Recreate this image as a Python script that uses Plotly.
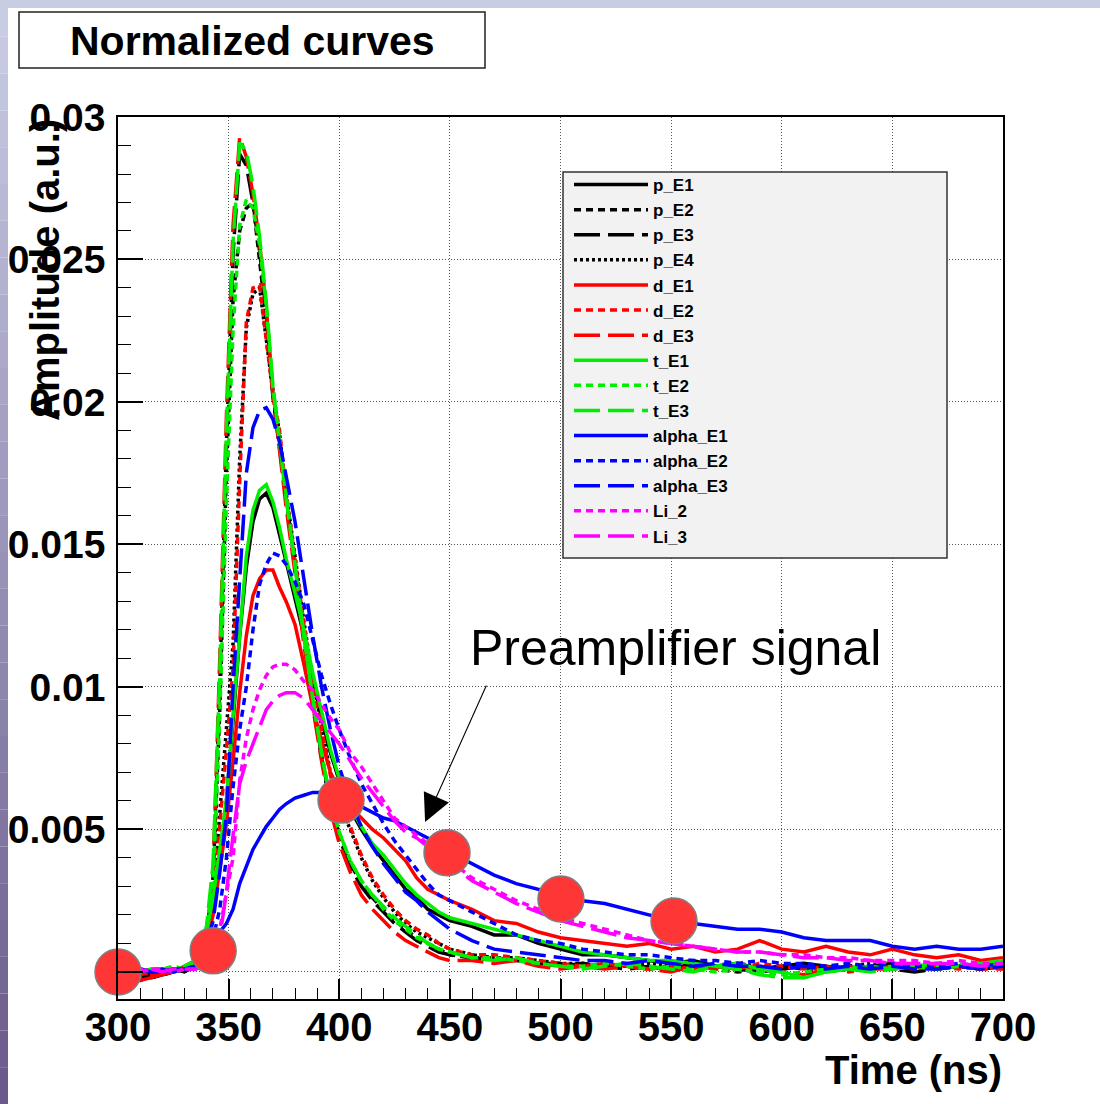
import plotly.graph_objects as go

# ---------------- data ----------------
time_ns = [300, 305, 310, 315, 320, 325, 330, 335, 340,
           343, 346, 349, 352, 355, 358, 361, 364, 367, 370, 373, 376,
           380, 384, 388, 392, 396, 400,
           405, 410, 415, 420, 425, 430, 435, 440, 445, 450,
           460, 470, 480, 490, 500, 510, 520, 530, 540, 550, 560, 570,
           580, 590, 600, 610, 620, 630, 640, 650, 660, 670, 680, 690, 700]

p_E1 = [0.0001, -0.0001, -0.0002, -0.0001, 0.0000, 0.0001, 0.0000, 0.0002, 0.0010,
        0.0022, 0.0040, 0.0060, 0.0088, 0.0118, 0.0142, 0.0158, 0.0166, 0.0168, 0.0163, 0.0154, 0.0144,
        0.0131, 0.0118, 0.0103, 0.0089, 0.0077, 0.0067,
        0.0057, 0.0050, 0.0044, 0.0039, 0.0034, 0.0029, 0.0026, 0.0022, 0.0020, 0.0018,
        0.0016, 0.0013, 0.0013, 0.0010, 0.0008, 0.0006, 0.0006, 0.0005, 0.0004, 0.0003, 0.0004, 0.0002,
        0.0003, 0.0001, 0.0002, 0.0003, 0.0002, 0.0001, 0.0002, 0.0003, 0.0002, 0.0001, 0.0002, 0.0002, 0.0003]
p_E2 = [0.0002, 0.0000, -0.0001, -0.0002, -0.0001, 0.0000, 0.0001, 0.0003, 0.0013,
        0.0032, 0.0092, 0.0175, 0.0236, 0.0260, 0.0268, 0.0270, 0.0250, 0.0229, 0.0203, 0.0185, 0.0165,
        0.0142, 0.0117, 0.0095, 0.0076, 0.0059, 0.0048,
        0.0038, 0.0031, 0.0026, 0.0022, 0.0018, 0.0015, 0.0012, 0.0010, 0.0008, 0.0006,
        0.0005, 0.0005, 0.0004, 0.0003, 0.0003, 0.0002, 0.0003, 0.0002, 0.0001, 0.0002, 0.0002, 0.0001,
        0.0000, 0.0001, 0.0002, 0.0001, 0.0000, 0.0001, 0.0002, 0.0001, 0.0002, 0.0001, 0.0002, 0.0001, 0.0002]
p_E3 = [0.0000, -0.0001, -0.0003, -0.0002, -0.0001, 0.0000, 0.0001, 0.0002, 0.0011,
        0.0033, 0.0100, 0.0185, 0.0252, 0.0287, 0.0283, 0.0270, 0.0253, 0.0231, 0.0202, 0.0184, 0.0164,
        0.0141, 0.0116, 0.0094, 0.0075, 0.0058, 0.0047,
        0.0037, 0.0030, 0.0025, 0.0021, 0.0017, 0.0014, 0.0011, 0.0009, 0.0007, 0.0006,
        0.0005, 0.0004, 0.0004, 0.0003, 0.0002, 0.0003, 0.0002, 0.0001, 0.0002, 0.0001, 0.0003, 0.0002,
        0.0001, 0.0000, 0.0001, 0.0002, 0.0001, 0.0001, 0.0002, 0.0001, 0.0000, 0.0001, 0.0002, 0.0001, 0.0002]
p_E4 = [0.0001, 0.0000, -0.0001, -0.0001, 0.0000, 0.0000, 0.0001, 0.0003, 0.0011,
        0.0026, 0.0055, 0.0085, 0.0115, 0.0180, 0.0226, 0.0238, 0.0240, 0.0222, 0.0204, 0.0189, 0.0168,
        0.0146, 0.0123, 0.0103, 0.0086, 0.0070, 0.0059,
        0.0050, 0.0040, 0.0032, 0.0026, 0.0021, 0.0017, 0.0014, 0.0012, 0.0010, 0.0008,
        0.0006, 0.0005, 0.0005, 0.0004, 0.0003, 0.0003, 0.0002, 0.0002, 0.0003, 0.0002, 0.0001, 0.0002,
        0.0003, 0.0002, 0.0001, 0.0002, 0.0001, 0.0002, 0.0003, 0.0001, 0.0002, 0.0001, 0.0002, 0.0001, 0.0002]
d_E1 = [0.0000, -0.0002, -0.0003, -0.0002, -0.0001, 0.0000, 0.0002, 0.0004, 0.0010,
        0.0020, 0.0036, 0.0052, 0.0074, 0.0098, 0.0118, 0.0132, 0.0138, 0.0141, 0.0141, 0.0135, 0.0130,
        0.0122, 0.0108, 0.0093, 0.0081, 0.0070, 0.0064,
        0.0058, 0.0054, 0.0050, 0.0047, 0.0043, 0.0039, 0.0033, 0.0029, 0.0027, 0.0025,
        0.0022, 0.0018, 0.0017, 0.0014, 0.0012, 0.0011, 0.0010, 0.0009, 0.0010, 0.0008, 0.0009, 0.0007,
        0.0008, 0.0011, 0.0008, 0.0007, 0.0009, 0.0007, 0.0006, 0.0008, 0.0006, 0.0005, 0.0006, 0.0004, 0.0005]
d_E2 = [0.0001, 0.0000, -0.0001, 0.0000, 0.0001, 0.0000, 0.0002, 0.0003, 0.0012,
        0.0025, 0.0050, 0.0078, 0.0107, 0.0172, 0.0228, 0.0240, 0.0241, 0.0221, 0.0203, 0.0190, 0.0168,
        0.0145, 0.0122, 0.0102, 0.0085, 0.0069, 0.0058,
        0.0051, 0.0041, 0.0033, 0.0027, 0.0022, 0.0018, 0.0015, 0.0013, 0.0010, 0.0008,
        0.0006, 0.0006, 0.0005, 0.0004, 0.0003, 0.0002, 0.0003, 0.0002, 0.0001, 0.0002, 0.0001, 0.0002,
        0.0001, 0.0003, 0.0002, 0.0001, 0.0002, 0.0000, 0.0001, 0.0002, 0.0001, 0.0002, 0.0001, 0.0002, 0.0001]
d_E3 = [0.0001, 0.0000, -0.0002, -0.0001, 0.0000, 0.0001, 0.0001, 0.0003, 0.0012,
        0.0035, 0.0110, 0.0195, 0.0262, 0.0293, 0.0286, 0.0273, 0.0256, 0.0233, 0.0203, 0.0183, 0.0163,
        0.0140, 0.0115, 0.0093, 0.0074, 0.0057, 0.0045,
        0.0035, 0.0027, 0.0022, 0.0018, 0.0014, 0.0011, 0.0009, 0.0007, 0.0005, 0.0004,
        0.0004, 0.0003, 0.0004, 0.0002, 0.0001, 0.0002, 0.0001, 0.0002, 0.0001, 0.0000, 0.0002, 0.0001,
        0.0002, 0.0001, 0.0000, -0.0001, 0.0001, 0.0002, 0.0001, 0.0001, 0.0002, 0.0001, 0.0002, 0.0001, 0.0001]
t_E1 = [0.0002, 0.0001, 0.0000, 0.0001, 0.0001, 0.0000, 0.0001, 0.0004, 0.0014,
        0.0026, 0.0042, 0.0060, 0.0090, 0.0120, 0.0146, 0.0162, 0.0169, 0.0171, 0.0165, 0.0156, 0.0145,
        0.0133, 0.0120, 0.0105, 0.0091, 0.0078, 0.0068,
        0.0058, 0.0051, 0.0045, 0.0041, 0.0036, 0.0031, 0.0027, 0.0024, 0.0021, 0.0019,
        0.0017, 0.0015, 0.0013, 0.0011, 0.0009, 0.0007, 0.0006, 0.0005, 0.0004, 0.0004, 0.0003, 0.0002,
        0.0003, 0.0001, 0.0000, -0.0002, 0.0000, 0.0001, 0.0002, 0.0001, 0.0002, 0.0003, 0.0002, 0.0003, 0.0004]
t_E2 = [0.0002, 0.0001, 0.0001, 0.0000, 0.0001, 0.0002, 0.0001, 0.0004, 0.0015,
        0.0032, 0.0090, 0.0165, 0.0225, 0.0262, 0.0271, 0.0268, 0.0255, 0.0234, 0.0205, 0.0186, 0.0166,
        0.0143, 0.0118, 0.0096, 0.0077, 0.0060, 0.0049,
        0.0039, 0.0032, 0.0027, 0.0022, 0.0018, 0.0015, 0.0012, 0.0010, 0.0008, 0.0007,
        0.0005, 0.0005, 0.0004, 0.0003, 0.0002, 0.0002, 0.0003, 0.0002, 0.0001, 0.0002, 0.0001, 0.0000,
        0.0001, 0.0000, -0.0001, 0.0000, 0.0001, 0.0002, 0.0001, 0.0002, 0.0003, 0.0002, 0.0003, 0.0002, 0.0003]
t_E3 = [0.0002, 0.0001, 0.0000, 0.0001, 0.0001, 0.0000, 0.0002, 0.0004, 0.0016,
        0.0038, 0.0105, 0.0190, 0.0256, 0.0291, 0.0288, 0.0276, 0.0258, 0.0235, 0.0206, 0.0186, 0.0166,
        0.0143, 0.0118, 0.0096, 0.0077, 0.0060, 0.0049,
        0.0039, 0.0032, 0.0027, 0.0023, 0.0019, 0.0016, 0.0013, 0.0010, 0.0008, 0.0007,
        0.0005, 0.0004, 0.0005, 0.0003, 0.0002, 0.0001, 0.0002, 0.0003, 0.0002, 0.0001, 0.0000, 0.0002,
        0.0001, -0.0001, -0.0002, -0.0002, 0.0000, 0.0001, 0.0000, 0.0001, 0.0002, 0.0001, 0.0002, 0.0003, 0.0002]
alpha_E1 = [0.0001, 0.0000, 0.0001, 0.0000, 0.0001, 0.0000, 0.0001, 0.0001, 0.0004,
            0.0009, 0.0014, 0.0017, 0.0022, 0.0031, 0.0037, 0.0043, 0.0047, 0.0051, 0.0054, 0.0057, 0.0059,
            0.0061, 0.0062, 0.0063, 0.0063, 0.0063, 0.0062,
            0.0060, 0.0058, 0.0056, 0.0054, 0.0053, 0.0051, 0.0049, 0.0047, 0.0045, 0.0042,
            0.0038, 0.0034, 0.0031, 0.0029, 0.0027, 0.0025, 0.0024, 0.0022, 0.0020, 0.0018, 0.0017, 0.0016,
            0.0015, 0.0015, 0.0014, 0.0012, 0.0011, 0.0011, 0.0011, 0.0009, 0.0008, 0.0009, 0.0008, 0.0008, 0.0009]
alpha_E2 = [0.0001, 0.0000, 0.0000, 0.0001, 0.0000, 0.0001, 0.0001, 0.0002, 0.0007,
            0.0012, 0.0022, 0.0040, 0.0065, 0.0085, 0.0100, 0.0120, 0.0136, 0.0143, 0.0147, 0.0146, 0.0143,
            0.0137, 0.0129, 0.0117, 0.0104, 0.0094, 0.0085,
            0.0075, 0.0066, 0.0059, 0.0052, 0.0046, 0.0041, 0.0036, 0.0031, 0.0027, 0.0025,
            0.0021, 0.0017, 0.0013, 0.0011, 0.0010, 0.0008, 0.0007, 0.0006, 0.0006, 0.0005, 0.0004, 0.0004,
            0.0003, 0.0004, 0.0003, 0.0003, 0.0002, 0.0003, 0.0002, 0.0003, 0.0002, 0.0002, 0.0003, 0.0002, 0.0003]
alpha_E3 = [0.0001, 0.0000, 0.0001, 0.0000, 0.0000, 0.0001, 0.0001, 0.0002, 0.0009,
            0.0018, 0.0035, 0.0055, 0.0100, 0.0140, 0.0175, 0.0191, 0.0197, 0.0198, 0.0194, 0.0186, 0.0174,
            0.0158, 0.0138, 0.0118, 0.0100, 0.0085, 0.0072,
            0.0060, 0.0051, 0.0044, 0.0038, 0.0033, 0.0028, 0.0025, 0.0021, 0.0018, 0.0015,
            0.0011, 0.0008, 0.0007, 0.0006, 0.0005, 0.0004, 0.0004, 0.0003, 0.0004, 0.0003, 0.0002, 0.0003,
            0.0002, 0.0002, 0.0001, 0.0002, 0.0001, 0.0002, 0.0001, 0.0002, 0.0001, 0.0001, 0.0002, 0.0001, 0.0002]
Li_2 = [0.0001, 0.0001, 0.0000, 0.0001, 0.0001, 0.0000, 0.0001, 0.0001, 0.0003,
        0.0006, 0.0015, 0.0028, 0.0040, 0.0067, 0.0082, 0.0092, 0.0099, 0.0104, 0.0107, 0.0108, 0.0108,
        0.0106, 0.0102, 0.0099, 0.0094, 0.0089, 0.0085,
        0.0077, 0.0072, 0.0066, 0.0060, 0.0054, 0.0051, 0.0048, 0.0045, 0.0042, 0.0039,
        0.0033, 0.0029, 0.0025, 0.0022, 0.0019, 0.0017, 0.0015, 0.0013, 0.0011, 0.0010, 0.0009, 0.0008,
        0.0007, 0.0007, 0.0006, 0.0006, 0.0005, 0.0005, 0.0004, 0.0004, 0.0004, 0.0003, 0.0004, 0.0003, 0.0003]
Li_3 = [0.0001, 0.0000, 0.0001, 0.0001, 0.0000, 0.0001, 0.0001, 0.0001, 0.0002,
        0.0005, 0.0012, 0.0028, 0.0048, 0.0066, 0.0074, 0.0080, 0.0086, 0.0092, 0.0095, 0.0097, 0.0098,
        0.0098, 0.0096, 0.0092, 0.0088, 0.0084, 0.0080,
        0.0074, 0.0068, 0.0063, 0.0058, 0.0053, 0.0049, 0.0047, 0.0044, 0.0041, 0.0038,
        0.0032, 0.0028, 0.0024, 0.0021, 0.0018, 0.0016, 0.0014, 0.0012, 0.0011, 0.0010, 0.0009, 0.0008,
        0.0007, 0.0007, 0.0006, 0.0005, 0.0005, 0.0004, 0.0004, 0.0003, 0.0003, 0.0003, 0.0003, 0.0002, 0.0003]

series_names = ["p_E1", "p_E2", "p_E3", "p_E4", "d_E1", "d_E2", "d_E3",
                "t_E1", "t_E2", "t_E3", "alpha_E1", "alpha_E2", "alpha_E3", "Li_2", "Li_3"]
series_values = [p_E1, p_E2, p_E3, p_E4, d_E1, d_E2, d_E3,
                 t_E1, t_E2, t_E3, alpha_E1, alpha_E2, alpha_E3, Li_2, Li_3]

# highlighted points (red discs)
dot_time = [300, 343, 400.8, 448.7, 500.2, 551.3]
dot_amp = [0.0000, 0.00074, 0.00603, 0.00418, 0.00256, 0.00179]

x_ticks = [300, 350, 400, 450, 500, 550, 600, 650, 700]
y_ticks = [0, 0.005, 0.01, 0.015, 0.02, 0.025, 0.03]
y_ticktext = ["", "0.005", "0.01", "0.015", "0.02", "0.025", "0.03"]

# ---------------- styling ----------------
colors = {"p": "#000000", "d": "#ff0000", "t": "#00ee00", "alpha": "#0000ff", "Li": "#ff00ff"}
dashes = {"solid": "solid", "dash": "7px,5px", "long": "26px,8px", "dot": "3px,3px"}
style_of = {
    "p_E1": ("p", "solid"), "p_E2": ("p", "dash"), "p_E3": ("p", "long"), "p_E4": ("p", "dot"),
    "d_E1": ("d", "solid"), "d_E2": ("d", "dash"), "d_E3": ("d", "long"),
    "t_E1": ("t", "solid"), "t_E2": ("t", "dash"), "t_E3": ("t", "long"),
    "alpha_E1": ("alpha", "solid"), "alpha_E2": ("alpha", "dash"), "alpha_E3": ("alpha", "long"),
    "Li_2": ("Li", "dash"), "Li_3": ("Li", "long"),
}

FONT = "Liberation Sans, Arial, Helvetica, sans-serif"
W, H = 1100, 1104
L, R, T, B = 118, 97, 117, 105
PW, PH = W - L - R, H - T - B


def px_x(p):
    return (p - L) / PW


def px_y(p):
    return (H - B - p) / PH


fig = go.Figure()
for name, vals in zip(series_names, series_values):
    c, d = style_of[name]
    fig.add_trace(go.Scatter(
        x=time_ns, y=vals, mode="lines", name=name, legendgroup=name,
        line=dict(color=colors[c], width=3.5, dash=dashes[d]),
    ))

fig.add_trace(go.Scatter(
    x=dot_time, y=dot_amp, mode="markers", showlegend=False, cliponaxis=False,
    marker=dict(size=46, color="#ff3636", line=dict(color="#7f7f7f", width=1.5)),
))

shapes = []
# slide background strips
shapes.append(dict(type="rect", xref="paper", yref="paper", x0=px_x(0), x1=px_x(W),
                   y0=px_y(8), y1=px_y(0), fillcolor="#c9cde4", line=dict(width=0), layer="below"))
n = 30
top_c, bot_c = (201, 205, 228), (106, 90, 140)
for i in range(n):
    f = i / (n - 1)
    col = tuple(int(round(top_c[k] + (bot_c[k] - top_c[k]) * f)) for k in range(3))
    shapes.append(dict(type="rect", xref="paper", yref="paper", x0=px_x(0), x1=px_x(8),
                       y0=px_y(H * (i + 1) / n), y1=px_y(H * i / n),
                       fillcolor="rgb(%d,%d,%d)" % col, line=dict(width=0), layer="below"))
# title box
shapes.append(dict(type="rect", xref="paper", yref="paper", x0=px_x(19), x1=px_x(485),
                   y0=px_y(68), y1=px_y(12), fillcolor="white",
                   line=dict(color="#222222", width=1.5), layer="below"))
# legend box
shapes.append(dict(type="rect", xref="paper", yref="paper", x0=px_x(563), x1=px_x(947),
                   y0=px_y(558), y1=px_y(172), fillcolor="#f2f2f2",
                   line=dict(color="#333333", width=1.5), layer="above"))

annotations = [
    dict(text="Normalized curves", xref="paper", yref="paper", x=px_x(252), y=px_y(41),
         xanchor="center", yanchor="middle", showarrow=False,
         font=dict(family=FONT, size=41, color="black", weight="bold")),
    dict(text="Amplitude (a.u.)", xref="paper", yref="paper", x=px_x(45), y=px_y(270),
         xanchor="center", yanchor="middle", showarrow=False, textangle=-90,
         font=dict(family=FONT, size=40, color="black", weight="bold")),
    dict(text="Time (ns)", xref="paper", yref="paper", x=px_x(1004), y=px_y(1070),
         xanchor="right", yanchor="middle", showarrow=False,
         font=dict(family=FONT, size=40, color="black", weight="bold")),
    dict(text="Preamplifier signal", xref="x", yref="y", x=552, y=0.01135,
         xanchor="center", yanchor="middle", showarrow=False,
         font=dict(family=FONT, size=50, color="black")),
    dict(text="", xref="x", yref="y", x=438.8, y=0.00526, axref="x", ayref="y",
         ax=466.8, ay=0.0101, showarrow=True, arrowhead=2, arrowsize=5, arrowwidth=1.1,
         arrowcolor="black"),
]

fig.update_layout(
    width=W, height=H,
    margin=dict(l=L, r=R, t=T, b=B, autoexpand=False),
    paper_bgcolor="white", plot_bgcolor="white",
    shapes=shapes, annotations=annotations,
    showlegend=True,
    legend=dict(x=px_x(569), y=px_y(167), xanchor="left", yanchor="top",
                bgcolor="rgba(0,0,0,0)", borderwidth=0, tracegroupgap=3.6,
                itemwidth=74, traceorder="normal",
                font=dict(family=FONT, size=17, color="black", weight="bold")),
    xaxis=dict(range=[300, 700], tickvals=x_ticks, ticks="inside", ticklen=20, tickwidth=1.5,
               tickcolor="black", showline=True, linecolor="black", linewidth=1.5, mirror=True,
               showgrid=True, gridcolor="#555555", gridwidth=1, griddash="1px,2px", zeroline=False,
               ticklabelstandoff=-8,
               tickfont=dict(family=FONT, size=40, color="black", weight="bold"),
               minor=dict(ticks="inside", tick0=300, dtick=10, ticklen=11, tickwidth=1,
                          tickcolor="black", showgrid=False)),
    yaxis=dict(range=[-0.00095, 0.03], tickvals=y_ticks, ticktext=y_ticktext, ticks="inside",
               ticklen=25, tickwidth=1.5, tickcolor="black", showline=True, linecolor="black",
               linewidth=1.5, mirror=True, showgrid=True, gridcolor="#555555", gridwidth=1,
               griddash="1px,2px", zeroline=False, ticklabelstandoff=3,
               tickfont=dict(family=FONT, size=39, color="black", weight="bold"),
               minor=dict(ticks="inside", tick0=0, dtick=0.001, ticklen=13, tickwidth=1,
                          tickcolor="black", showgrid=False)),
)

fig.write_html("out.html", config={"displayModeBar": False},
               post_script="document.body.style.margin='0px';document.body.style.overflow='hidden';")
